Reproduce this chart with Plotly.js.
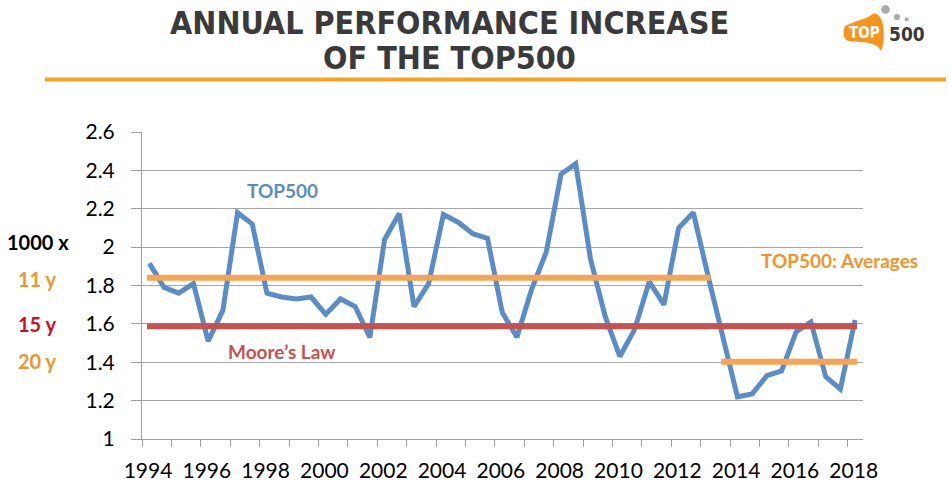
<!DOCTYPE html>
<html>
<head>
<meta charset="utf-8">
<script src="https://cdn.plot.ly/plotly-3.0.1.min.js"></script>
<style>html,body{margin:0;padding:0;background:#fff;}#chart{width:949px;height:491px;}</style>
</head>
<body>
<div id="chart"></div>
<script>
// ---- data ----
const years = [1994.25,1994.75,1995.25,1995.75,1996.25,1996.75,1997.25,1997.75,1998.25,1998.75,
  1999.25,1999.75,2000.25,2000.75,2001.25,2001.75,2002.25,2002.75,2003.25,2003.75,
  2004.25,2004.75,2005.25,2005.75,2006.25,2006.75,2007.25,2007.75,2008.25,2008.75,
  2009.25,2009.75,2010.25,2010.75,2011.25,2011.75,2012.25,2012.75,2013.25,2013.75,
  2014.25,2014.75,2015.25,2015.75,2016.25,2016.75,2017.25,2017.75,2018.25];
const top500Increase = [1.915,1.79,1.76,1.81,1.51,1.67,2.18,2.12,1.76,1.74,
  1.73,1.74,1.65,1.73,1.69,1.53,2.04,2.175,1.69,1.81,
  2.17,2.13,2.07,2.045,1.66,1.53,1.78,1.975,2.38,2.435,
  1.94,1.64,1.43,1.57,1.82,1.70,2.10,2.18,1.85,1.53,
  1.22,1.235,1.33,1.355,1.56,1.61,1.325,1.26,1.62];
const avg11Years = [1994.17, 2013.33];
const avg11Values = [1.84, 1.84];
const mooreYears = [1994.17, 2018.32];
const mooreValues = [1.587, 1.587];
const avg20Years = [2013.69, 2018.32];
const avg20Values = [1.402, 1.402];
const yTickVals = [1,1.2,1.4,1.6,1.8,2,2.2,2.4,2.6];

// ---- layout helpers (pixel -> paper) ----
const W = 949, H = 491, ML = 142, MR = 86, MT = 132, MB = 52;
const PW = W - ML - MR, PH = H - MT - MB;
const fx = x => (x - ML) / PW;
const fy = y => 1 - (y - MT) / PH;

const BLUE = '#5A8DC8', ORANGE = '#F8A452', RED = '#C5524E';
const lato = 'Lato, "Open Sans", sans-serif';
const cond = '"DejaVu Sans Condensed", "DejaVu Sans", sans-serif';

const traces = [
  {x: years, y: top500Increase, type: 'scatter', mode: 'lines', line: {color: BLUE, width: 5}, hoverinfo: 'skip'},
  {x: mooreYears, y: mooreValues, type: 'scatter', mode: 'lines', line: {color: RED, width: 6}, hoverinfo: 'skip'},
  {x: avg11Years, y: avg11Values, type: 'scatter', mode: 'lines', line: {color: ORANGE, width: 6}, hoverinfo: 'skip'},
  {x: avg20Years, y: avg20Values, type: 'scatter', mode: 'lines', line: {color: ORANGE, width: 6}, hoverinfo: 'skip'}
];

function ann(text, x, y, color, size, family, extra) {
  return Object.assign({text: text, xref: 'paper', yref: 'paper', x: fx(x), y: fy(y),
    xanchor: 'center', yanchor: 'middle', showarrow: false,
    font: {family: family || lato, size: size, color: color}}, extra || {});
}

function pathPx(pts) {
  return pts.map(p => {
    const c = p[0]; const coords = [];
    for (let i = 1; i < p.length; i += 2) coords.push(fx(p[i]).toFixed(5) + ',' + fy(p[i+1]).toFixed(5));
    return c + coords.join(' ');
  }).join(' ');
}

const logoPath = pathPx([
  ['M', 846, 25.5],
  ['C', 852, 23, 860, 20, 866, 18],
  ['C', 870, 16.5, 872, 13.5, 875, 13.5],
  ['C', 879, 14, 882, 19, 883, 25],
  ['C', 884, 32, 884, 40, 883, 44],
  ['C', 882.5, 47, 882, 49, 881, 51],
  ['C', 878, 46, 874, 44, 869, 43],
  ['C', 862, 41.5, 853, 42, 848, 41],
  ['C', 843, 39, 842, 29, 846, 25.5],
  ['Z']
]);

function circ(cx, cy, r, color) {
  return {type: 'circle', xref: 'paper', yref: 'paper', x0: fx(cx - r), x1: fx(cx + r), y0: fy(cy + r), y1: fy(cy - r),
    fillcolor: color, line: {width: 0}, layer: 'above'};
}

const layout = {
  width: W, height: H,
  margin: {l: ML, r: MR, t: MT, b: MB, pad: 0},
  paper_bgcolor: '#ffffff', plot_bgcolor: '#ffffff',
  showlegend: false,
  xaxis: {
    range: [1994, 2018.52], tickmode: 'linear', tick0: 1994, dtick: 2,
    ticks: 'outside', ticklen: 7, tickcolor: '#A0A0A0', tickwidth: 1,
    minor: {tickmode: 'linear', tick0: 1995, dtick: 1, ticks: 'outside', ticklen: 7, tickcolor: '#A0A0A0', showgrid: false},
    showgrid: false, zeroline: false, showline: true, linecolor: '#A0A0A0', linewidth: 1,
    tickfont: {family: lato, size: 21, color: '#000'}, ticklabelshift: 6, ticklabelstandoff: 6,
    fixedrange: true
  },
  yaxis: {
    range: [1, 2.6], tickmode: 'array', tickvals: yTickVals, ticktext: yTickVals.map(v => String(v)),
    ticks: 'outside', ticklen: 10, tickcolor: '#A0A0A0', tickwidth: 1,
    showgrid: true, gridcolor: '#A6A6A6', gridwidth: 1, zeroline: false,
    showline: true, linecolor: '#A0A0A0', linewidth: 1,
    tickfont: {family: lato, size: 21, color: '#000'}, ticklabelstandoff: 12,
    fixedrange: true
  },
  shapes: [
    {type: 'line', xref: 'paper', yref: 'paper', x0: fx(45), x1: fx(946), y0: fy(79.5), y1: fy(79.5), line: {color: '#F4A420', width: 4}},
    {type: 'path', xref: 'paper', yref: 'paper', path: logoPath, fillcolor: '#F7941D', line: {width: 0}, layer: 'above'},
    circ(885.5, 9.5, 4.4, '#ABABAB'),
    circ(897, 17, 3.1, '#ABABAB'),
    circ(906.7, 19.3, 2.1, '#ABABAB')
  ],
  annotations: [
    ann('<b>ANNUAL PERFORMANCE INCREASE</b>', 449, 22.5, '#3A3A3A', 32, cond),
    ann('<b>OF THE TOP500</b>', 449, 57.5, '#3A3A3A', 32, cond),
    ann('<b>TOP</b>', 864.5, 33, '#FFFFFF', 15, cond),
    ann('<b>500</b>', 907, 34, '#3A3A3A', 19, cond),
    ann('<b>TOP500</b>', 282, 190, BLUE, 19),
    ann('<b>Moore’s Law</b>', 282, 351, RED, 19),
    ann('<b>TOP500: Averages</b>', 839, 260, '#F0942C', 19),
    ann('<b>1000 x</b>', 38, 241.5, '#000000', 20),
    ann('<b>11 y</b>', 37, 279, '#EC952A', 20),
    ann('<b>15 y</b>', 37, 324, '#C8102E', 20),
    ann('<b>20 y</b>', 37, 361, '#EC952A', 20)
  ]
};

Plotly.newPlot('chart', traces, layout, {staticPlot: true, displayModeBar: false});
</script>
</body>
</html>
